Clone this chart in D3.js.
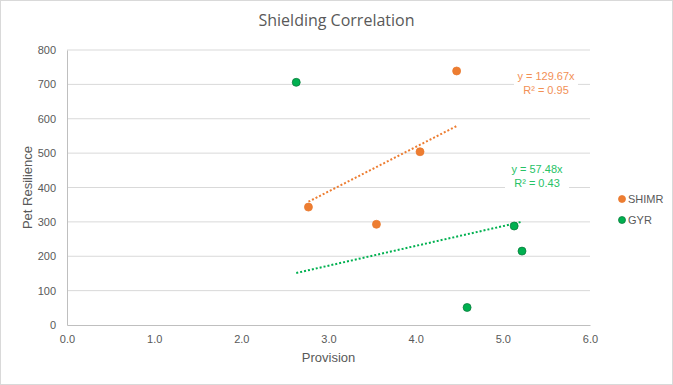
<!DOCTYPE html>
<html>
<head>
<meta charset="utf-8">
<script src="https://cdn.jsdelivr.net/npm/d3@7"></script>
<style>
  body { margin: 0; background: #fff; }
  svg { display: block; font-family: "Liberation Sans", Arial, sans-serif; }
</style>
</head>
<body>
<div id="chart"></div>
<script>
// Données
const shimrX = [2.77, 3.55, 4.05, 4.47];
const shimrY = [343, 293, 504, 739];
const gyrX = [2.63, 4.59, 5.13, 5.22];
const gyrY = [706, 51, 288, 215];
const xTicks = [0, 1, 2, 3, 4, 5, 6];
const yTicks = [0, 100, 200, 300, 400, 500, 600, 700, 800];
const seriesNames = ['SHIMR', 'GYR'];
const trendLabels = [['y = 129.67x', 'R² = 0.95'], ['y = 57.48x', 'R² = 0.43']];

const width = 673, height = 385;
const margin = { left: 67, right: 83, top: 50, bottom: 60 };

const svg = d3.select('#chart')
    .append('svg')
    .attr('width', width)
    .attr('height', height);

// Cadre du graphique
svg.append('rect')
    .attr('x', 0.5).attr('y', 0.5)
    .attr('width', width - 1).attr('height', height - 1)
    .attr('fill', '#fff')
    .attr('stroke', '#d9d9d9');

const x = d3.scaleLinear().domain([0, 6]).range([margin.left, width - margin.right]);
const y = d3.scaleLinear().domain([0, 800]).range([height - margin.bottom, margin.top]);

// Grille horizontale
svg.append('g')
    .selectAll('line')
    .data(yTicks.slice(1))
    .enter()
    .append('line')
    .attr('x1', x(0)).attr('x2', x(6))
    .attr('y1', d => y(d)).attr('y2', d => y(d))
    .attr('stroke', '#d9d9d9')
    .attr('stroke-width', 1);

// Axes
const xAxis = svg.append('g')
    .attr('transform', `translate(0,${y(0)})`)
    .call(d3.axisBottom(x).tickValues(xTicks).tickFormat(d3.format('.1f')).tickSize(0).tickPadding(10));
const yAxis = svg.append('g')
    .attr('transform', `translate(${x(0)},0)`)
    .call(d3.axisLeft(y).tickValues(yTicks).tickSize(0).tickPadding(11));

[xAxis, yAxis].forEach(a => {
    a.select('.domain').attr('stroke', '#bfbfbf');
    a.selectAll('text')
        .attr('fill', '#595959')
        .attr('font-size', '11px');
});

// Titres
svg.append('text')
    .text('Shielding Correlation')
    .attr('x', width / 2).attr('y', 26)
    .attr('text-anchor', 'middle')
    .attr('fill', '#595959')
    .attr('font-family', '"Open Sans", sans-serif')
    .attr('font-size', '16px');

svg.append('text')
    .text('Provision')
    .attr('x', x(3)).attr('y', 362)
    .attr('text-anchor', 'middle')
    .attr('fill', '#595959')
    .attr('font-size', '13px');

svg.append('text')
    .text('Pet Resilience')
    .attr('transform', `translate(32,${y(400)}) rotate(-90)`)
    .attr('text-anchor', 'middle')
    .attr('fill', '#595959')
    .attr('font-size', '13px');

const series = [
    { name: seriesNames[0], xs: shimrX, ys: shimrY, fill: '#ED7D31', stroke: '#E97A2F', text: '#F29055', label: trendLabels[0], lx: 546, ly: 80 },
    { name: seriesNames[1], xs: gyrX, ys: gyrY, fill: '#00B050', stroke: '#0B7A3B', text: '#27C266', label: trendLabels[1], lx: 537, ly: 173 }
];

// Courbes de tendance (régression passant par l'origine)
series.forEach(s => {
    const sxy = d3.sum(s.xs, (v, i) => v * s.ys[i]);
    const sxx = d3.sum(s.xs, v => v * v);
    const slope = sxy / sxx;
    const x0 = d3.min(s.xs), x1 = d3.max(s.xs);
    svg.append('line')
        .attr('x1', x(x0)).attr('y1', y(slope * x0))
        .attr('x2', x(x1)).attr('y2', y(slope * x1))
        .attr('stroke', s.fill)
        .attr('stroke-width', 2)
        .attr('stroke-dasharray', '2,2');
});

// Points
series.forEach(s => {
    svg.append('g')
        .selectAll('circle')
        .data(s.xs.map((v, i) => [v, s.ys[i]]))
        .enter()
        .append('circle')
        .attr('cx', d => x(d[0]))
        .attr('cy', d => y(d[1]))
        .attr('r', 4)
        .attr('fill', s.fill)
        .attr('stroke', s.stroke)
        .attr('stroke-width', 0.75);
});

// Étiquettes des tendances
series.forEach(s => {
    const g = svg.append('g');
    g.append('rect')
        .attr('x', s.lx - 32).attr('y', s.ly - 11)
        .attr('width', 64).attr('height', 28)
        .attr('fill', '#fff');
    const t = g.append('text')
        .attr('text-anchor', 'middle')
        .attr('fill', s.text)
        .attr('font-size', '11px');
    t.append('tspan').attr('x', s.lx).attr('y', s.ly).text(s.label[0]);
    t.append('tspan').attr('x', s.lx).attr('y', s.ly + 13.5).text(s.label[1]);
});

// Légende
const legend = svg.append('g')
    .selectAll('.legend')
    .data(series)
    .enter()
    .append('g')
    .attr('class', 'legend')
    .attr('transform', (d, i) => `translate(622,${199 + i * 21})`);

legend.append('circle')
    .attr('r', 3.5)
    .attr('fill', d => d.fill)
    .attr('stroke', d => d.stroke)
    .attr('stroke-width', 0.75);

legend.append('text')
    .text(d => d.name)
    .attr('x', 6).attr('y', 4)
    .attr('fill', '#595959')
    .attr('font-size', '11px');
</script>
</body>
</html>
